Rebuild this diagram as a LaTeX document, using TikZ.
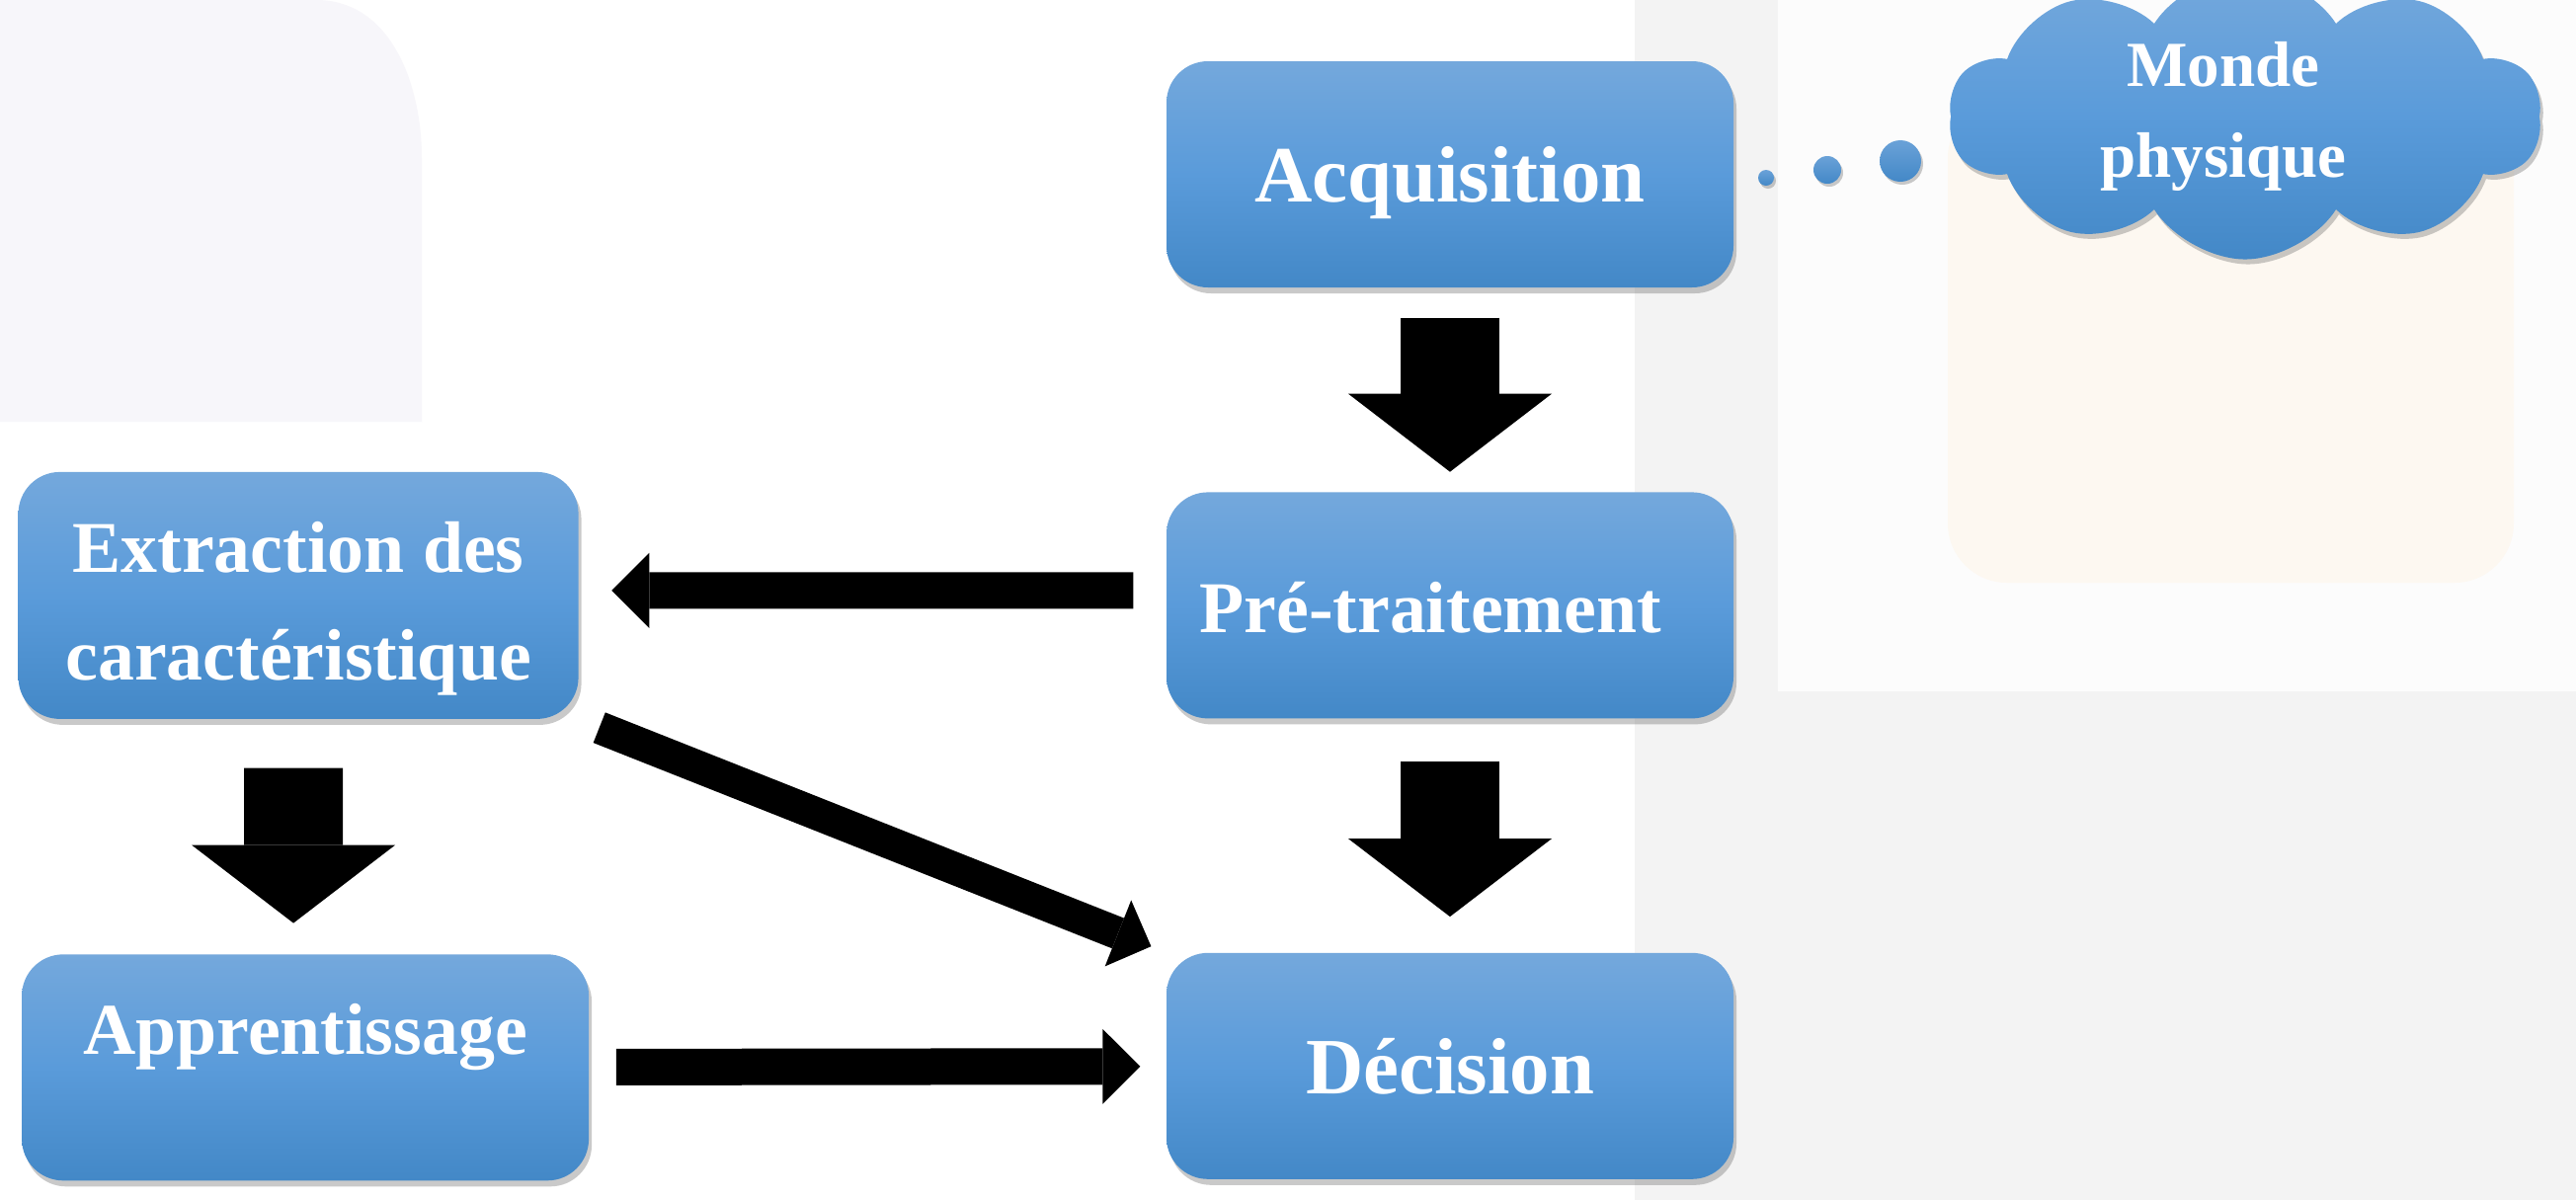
\documentclass[tikz,border=0pt]{standalone}
\usepackage{fontspec}
\setmainfont{Liberation Serif}
\usetikzlibrary{arrows.meta,positioning,shapes.symbols,shadows}
\definecolor{StageTop}{HTML}{74A8DC}
\definecolor{StageMid}{HTML}{5A9BDA}
\definecolor{StageBot}{HTML}{4388C7}
\definecolor{PanelGray}{HTML}{F3F3F3}
\definecolor{PanelWhite}{HTML}{FCFCFC}
\definecolor{PanelPeach}{HTML}{FDF8F1}
\definecolor{PanelLeft}{HTML}{F7F6FA}
\tikzset{
  stage/.style={rectangle, rounded corners=0.42cm, draw=none,
    top color=StageTop, bottom color=StageBot, middle color=StageMid,
    text=white, align=center, inner sep=0pt,
    minimum width=5.74cm, minimum height=2.29cm,
    font=\bfseries\fontsize{21}{31}\selectfont,
    drop shadow={shadow xshift=0.03cm, shadow yshift=-0.06cm,
      opacity=0.35, fill=black!60}},
  bigtext/.style={font=\bfseries\fontsize{23}{28}\selectfont},
  oneline/.style={text height=0.56cm, text depth=0pt},
  world/.style={cloud, cloud puffs=10, cloud puff arc=115, aspect=2.4,
    draw=none, top color=StageTop, bottom color=StageBot, middle color=StageMid,
    text=white, align=center, inner sep=0pt,
    minimum width=6.0cm, minimum height=2.35cm,
    font=\bfseries\fontsize{18.5}{26}\selectfont,
    drop shadow={shadow xshift=0.03cm, shadow yshift=-0.05cm,
      opacity=0.35, fill=black!60}},
  bubble/.style={circle, draw=none, inner sep=0pt,
    top color=StageTop!80!StageBot, bottom color=StageBot,
    drop shadow={shadow xshift=0.02cm, shadow yshift=-0.03cm,
      opacity=0.35, fill=black!60}},
  fatflow/.style={draw, line width=1cm,
    -{Triangle[length=0.79cm, width=2.06cm, line width=0pt]}},
  flatflow/.style={draw, line width=0.37cm,
    -{Triangle[length=0.38cm, width=0.76cm, line width=0pt]}},
  thinflow/.style={draw, line width=0.33cm,
    -{Triangle[length=0.36cm, width=0.72cm, line width=0pt]}}
}

\begin{document}
\begin{tikzpicture}
\useasboundingbox (0,0) rectangle (26.08,-12.15);

% background
\fill[white] (0,0) rectangle (26.08,-12.15);
\fill[PanelLeft] (0,0) -- (3.2,0) to[out=0,in=90] (4.27,-1.6)
  -- (4.27,-4.27) -- (0,-4.27) -- cycle;
\fill[PanelGray] (16.55,0) rectangle (26.08,-12.15);
\fill[PanelWhite] (18.0,0) rectangle (26.08,-7.0);
\fill[PanelPeach, rounded corners=0.6cm] (19.72,-1.0) rectangle (25.45,-5.9);

\node[stage, bigtext, oneline] (acq) at (14.68,-1.765) {Acquisition};
\node[stage, oneline, below=2.06cm of acq] (pre) {Pré-traitement\hspace*{0.4cm}};
\node[stage, bigtext, oneline, below=2.36cm of pre] (dec) {Décision};
\node[stage, minimum width=5.67cm, minimum height=2.50cm,
  text height=1.88cm, text depth=0.16cm,
  left=5.94cm of pre, yshift=0.10cm] (ext) {Extraction des\\caractéristique};
\node[stage, text height=0.55cm, text depth=0.81cm,
  below=2.37cm of ext, xshift=0.07cm] (app) {Apprentissage};

\node[world] (monde) at (22.73,-1.18) {Monde\hspace*{0.44cm}\\physique\hspace*{0.44cm}};
\node[bubble, minimum size=0.16cm] (b1) at (17.88,-1.80) {};
\node[bubble, minimum size=0.28cm] (b2) at (18.50,-1.72) {};
\node[bubble, minimum size=0.42cm] (b3) at (19.24,-1.63) {};

\draw[fatflow, shorten <=0.30cm, shorten >=0.20cm] (acq) -- (pre);
\draw[fatflow, shorten <=0.43cm, shorten >=0.36cm] (pre) -- (dec);
\draw[fatflow, shorten <=0.49cm, shorten >=0.31cm]
  ([xshift=-0.05cm]ext.south) -- ([xshift=-0.12cm]app.north);
\draw[flatflow, shorten <=0.33cm, shorten >=0.33cm]
  ([yshift=0.15cm]pre.west) -- ([yshift=0.05cm]ext.east);
\draw[flatflow, shorten <=0.27cm, shorten >=0.26cm] (app) -- (dec);
\draw[thinflow, shorten <=0.22cm, shorten >=0.16cm] (ext.south east) -- (dec.north west);

\end{tikzpicture}
\end{document}
